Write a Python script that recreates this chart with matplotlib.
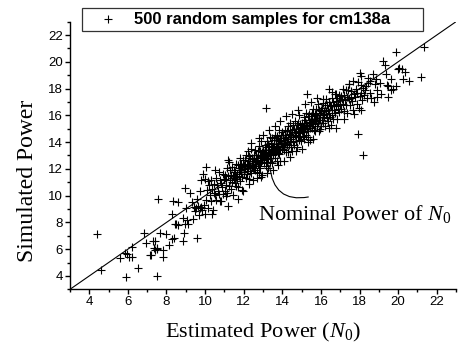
import matplotlib
matplotlib.use('Agg')
import matplotlib.pyplot as plt
from matplotlib.ticker import MultipleLocator

# ---------------- data ----------------
legend_label = "500 random samples for cm138a"
x_label = r"Estimated Power ($N_{\mathit{0}}$)"
y_label = "Simulated Power"
note_label = r"Nominal Power of $N_{\mathit{0}}$"
major_ticks = [4, 6, 8, 10, 12, 14, 16, 18, 20, 22]

# sparse low-power samples
est_low = [4.41, 4.60, 5.59, 5.85, 5.88, 5.97, 6.07, 6.19, 6.21, 6.50, 6.86, 6.93,
           7.14, 7.19, 7.31, 7.35, 7.40, 7.43, 7.49, 7.50, 7.52, 7.54, 7.66, 7.83,
           7.83, 8.00, 8.12, 8.26, 8.29, 8.34, 8.40, 8.43, 8.47, 8.60, 8.62, 8.83,
           8.86, 8.90, 8.95, 8.95, 9.00, 9.05, 9.10, 9.24, 9.30, 9.35, 9.40, 9.47,
           9.55, 9.59, 9.60, 9.65, 9.69, 9.73, 9.75, 9.81, 9.81, 9.85, 9.90, 9.92, 9.97]
sim_low = [7.10, 4.43, 5.32, 5.72, 3.93, 5.62, 5.42, 5.42, 6.17, 4.62, 7.19, 6.49,
           5.59, 5.57, 6.61, 6.11, 6.60, 5.94, 5.99, 4.02, 6.10, 9.73, 7.24, 5.92,
           5.44, 7.11, 6.29, 8.65, 6.76, 9.60, 6.86, 7.91, 7.86, 9.55, 7.84, 6.61,
           8.36, 7.23, 7.86, 10.55, 9.06, 8.20, 7.85, 10.22, 9.50, 8.24, 9.15, 8.85,
           9.10, 9.73, 6.86, 9.25, 8.53, 10.35, 9.05, 9.15, 11.20, 8.90, 11.64, 9.30, 8.65]

# dense band of samples
est_band = [
    10.02, 10.06, 10.11, 10.15, 10.19, 10.23, 10.28, 10.31, 10.36, 10.40, 10.44, 10.48,
    10.52, 10.55, 10.59, 10.62, 10.66, 10.70, 10.73, 10.77, 10.81, 10.84, 10.88, 10.91, 10.95, 10.98,
    11.02, 11.05, 11.08, 11.10, 11.13, 11.16, 11.19, 11.22, 11.24, 11.27, 11.30, 11.33, 11.36, 11.39, 11.41, 11.44, 11.47, 11.49,
    11.51, 11.53, 11.56, 11.58, 11.60, 11.62, 11.65, 11.67, 11.70, 11.72, 11.74, 11.76, 11.79, 11.81, 11.83, 11.86, 11.88, 11.90, 11.93, 11.95, 11.97, 11.99,
    12.01, 12.03, 12.05, 12.07, 12.09, 12.11, 12.13, 12.15, 12.17, 12.19, 12.21, 12.23, 12.25, 12.27, 12.29, 12.31, 12.33, 12.35, 12.37, 12.39, 12.41, 12.43, 12.45, 12.46, 12.48, 12.50,
    12.52, 12.53, 12.55, 12.57, 12.58, 12.60, 12.62, 12.63, 12.65, 12.67, 12.68, 12.70, 12.72, 12.73, 12.75, 12.77, 12.78, 12.80, 12.82, 12.83, 12.85, 12.87, 12.88, 12.90, 12.92, 12.93, 12.95, 12.97, 12.98, 13.00,
    13.02, 13.03, 13.05, 13.06, 13.08, 13.10, 13.11, 13.13, 13.14, 13.16, 13.17, 13.19, 13.21, 13.22, 13.24, 13.25, 13.27, 13.28, 13.30, 13.32, 13.33, 13.35, 13.36, 13.38, 13.39, 13.41, 13.42, 13.44, 13.45, 13.47, 13.48, 13.50,
    13.52, 13.53, 13.55, 13.57, 13.58, 13.60, 13.62, 13.63, 13.65, 13.67, 13.68, 13.70, 13.72, 13.73, 13.75, 13.77, 13.78, 13.80, 13.82, 13.83, 13.85, 13.87, 13.88, 13.90, 13.92, 13.93, 13.95, 13.97, 13.98, 14.00,
    14.02, 14.04, 14.05, 14.07, 14.09, 14.11, 14.13, 14.14, 14.16, 14.18, 14.20, 14.22, 14.23, 14.25, 14.27, 14.29, 14.30, 14.32, 14.34, 14.36, 14.38, 14.39, 14.41, 14.43, 14.45, 14.46, 14.48, 14.50,
    14.52, 14.54, 14.56, 14.58, 14.60, 14.62, 14.64, 14.65, 14.67, 14.69, 14.71, 14.73, 14.75, 14.77, 14.79, 14.81, 14.83, 14.85, 14.86, 14.88, 14.90, 14.92, 14.94, 14.96, 14.98, 15.00,
    15.02, 15.04, 15.06, 15.08, 15.10, 15.12, 15.14, 15.15, 15.17, 15.19, 15.21, 15.23, 15.25, 15.27, 15.29, 15.31, 15.33, 15.35, 15.36, 15.38, 15.40, 15.42, 15.44, 15.46, 15.48, 15.50,
    15.52, 15.54, 15.56, 15.58, 15.60, 15.63, 15.65, 15.67, 15.69, 15.71, 15.73, 15.75, 15.77, 15.79, 15.81, 15.83, 15.85, 15.88, 15.90, 15.92, 15.94, 15.96, 15.98, 16.00,
    16.02, 16.04, 16.07, 16.09, 16.11, 16.13, 16.16, 16.18, 16.20, 16.22, 16.25, 16.27, 16.29, 16.31, 16.34, 16.36, 16.38, 16.40, 16.43, 16.45, 16.47, 16.50,
    16.52, 16.55, 16.57, 16.60, 16.62, 16.65, 16.67, 16.70, 16.72, 16.75, 16.77, 16.80, 16.82, 16.85, 16.87, 16.90, 16.92, 16.95, 16.97, 17.00,
    17.03, 17.06, 17.09, 17.12, 17.16, 17.19, 17.22, 17.25, 17.28, 17.31, 17.34, 17.37, 17.41, 17.44, 17.47, 17.50,
]
sim_band = [
    11.22, 9.66, 10.41, 9.05, 10.79, 10.03, 11.18, 9.61, 10.46, 8.90, 10.84, 10.18,
    10.02, 11.35, 9.69, 10.82, 10.36, 11.80, 10.13, 11.17, 9.61, 10.94, 10.68, 11.61, 10.15, 11.28,
    11.52, 10.35, 11.18, 10.80, 12.03, 10.16, 11.49, 10.72, 12.54, 11.17, 11.90, 10.53, 11.56, 10.99, 12.11, 10.04, 11.47, 11.29,
    11.91, 10.93, 11.76, 11.38, 12.40, 10.72, 11.65, 11.27, 12.30, 10.62, 12.04, 11.46, 12.79, 11.11, 11.93, 11.76, 12.38, 11.40, 12.13, 10.35, 12.67, 11.79,
    12.31, 11.63, 12.65, 11.97, 12.19, 11.31, 13.03, 11.85, 12.37, 11.59, 12.61, 12.03, 12.95, 11.27, 12.29, 11.81, 12.83, 12.25, 13.47, 11.69, 12.61, 12.13, 12.85, 11.16, 12.58, 12.10,
    12.72, 12.03, 13.05, 12.37, 13.38, 11.90, 12.62, 12.33, 13.05, 11.77, 12.78, 12.60, 13.32, 12.33, 13.05, 11.67, 13.68, 12.20, 13.02, 12.63, 13.35, 12.07, 12.98, 12.50, 14.12, 12.63, 13.25, 11.57, 12.98, 12.90,
    13.42, 12.73, 13.15, 12.46, 13.78, 13.00, 13.41, 12.23, 13.64, 12.76, 13.17, 12.99, 14.11, 12.52, 13.44, 12.75, 13.87, 12.08, 13.60, 13.22, 13.73, 12.55, 14.36, 13.08, 13.49, 12.81, 13.92, 13.24, 13.65, 12.47, 14.28, 13.10,
    13.62, 13.03, 14.15, 13.37, 13.88, 12.80, 14.52, 13.23, 13.85, 13.57, 14.18, 12.60, 13.72, 13.43, 14.45, 13.17, 14.18, 13.60, 14.92, 13.13, 14.05, 13.47, 14.18, 12.60, 14.52, 13.83, 14.05, 13.47, 14.78, 13.70,
    14.32, 13.64, 14.55, 13.97, 14.19, 13.41, 14.93, 13.84, 14.56, 13.28, 14.40, 14.02, 14.83, 13.75, 14.27, 13.29, 15.20, 14.22, 14.64, 13.76, 14.88, 14.09, 15.41, 13.63, 14.55, 14.26, 14.88, 13.30,
    14.72, 14.04, 15.26, 14.38, 15.00, 13.82, 14.74, 14.55, 15.57, 14.09, 15.01, 14.43, 15.25, 13.67, 14.79, 14.41, 15.43, 14.65, 16.06, 14.18, 15.10, 14.42, 15.34, 14.06, 15.08, 14.90,
    15.42, 14.84, 15.16, 14.48, 15.90, 14.72, 15.44, 14.25, 15.67, 15.09, 15.41, 14.53, 16.15, 14.97, 15.29, 14.81, 15.93, 14.35, 15.66, 15.18, 16.10, 15.02, 15.54, 14.16, 15.98, 15.40,
    15.72, 15.04, 16.16, 15.38, 16.50, 14.93, 15.75, 15.37, 16.09, 14.81, 16.03, 15.65, 16.47, 15.19, 15.81, 15.43, 16.85, 15.68, 16.40, 14.82, 16.14, 15.66, 16.38, 15.20,
    16.32, 15.64, 16.57, 15.99, 16.91, 15.43, 16.36, 15.88, 16.80, 15.22, 16.35, 16.07, 17.19, 15.81, 16.74, 15.56, 16.38, 16.20, 17.03, 15.85, 16.77, 15.30,
    16.72, 16.05, 17.27, 16.40, 17.02, 15.75, 16.77, 16.40, 17.62, 16.15, 17.07, 16.70, 17.32, 15.75, 16.87, 16.50, 17.52, 16.25, 17.17, 16.80,
    17.43, 16.46, 17.19, 16.82, 17.96, 16.29, 17.52, 17.15, 17.88, 16.81, 17.34, 16.17, 17.91, 17.24, 18.37, 16.80,
]

# wider spread and high-power samples
est_high = [17.45, 17.57, 17.66, 17.66, 17.74, 17.86, 17.92, 17.97, 18.00, 18.00, 18.09, 18.09,
            18.09, 18.09, 18.14, 18.17, 18.35, 18.43, 17.55, 17.62, 17.70, 17.78, 17.82, 17.88,
            18.25, 18.30, 18.40, 18.46, 18.52, 18.56, 18.62, 18.69, 18.73, 18.78, 18.84, 18.90,
            18.93, 19.04, 19.12, 19.24, 19.30, 19.38, 19.41, 19.47, 19.50, 19.64, 19.64, 19.76,
            19.87, 19.87, 19.98, 20.03, 20.19, 20.24, 20.38, 20.55, 21.19, 21.36]
sim_high = [18.36, 17.82, 18.56, 16.38, 16.07, 16.87, 18.51, 16.52, 17.44, 19.18, 18.94, 18.30,
            17.69, 16.38, 17.12, 18.06, 18.19, 18.44, 17.30, 17.05, 17.60, 17.35, 17.95, 17.70,
            17.55, 17.90, 17.30, 18.80, 17.69, 18.60, 17.30, 19.10, 17.02, 18.35, 18.70, 17.36,
            17.90, 18.40, 17.60, 20.06, 19.76, 19.06, 18.30, 18.19, 17.37, 18.69, 17.87, 17.94,
            18.19, 20.75, 19.44, 19.56, 19.44, 18.69, 19.26, 18.56, 18.85, 21.10]

est_spread = [10.07, 10.50, 10.16, 11.19, 11.80, 10.35, 11.19, 11.71, 11.10, 10.76, 12.22, 12.39,
              12.80, 13.00, 13.30, 13.60, 13.90, 14.21, 14.50, 14.80, 15.16, 15.50, 15.80, 16.10,
              16.60, 16.80, 13.17, 15.29, 16.42, 12.90, 13.20, 13.50, 13.80, 14.10, 14.40, 14.73,
              15.00, 15.33, 15.60, 15.93, 16.42, 16.80, 17.20, 17.90, 18.20, 12.69, 12.30, 11.90]
sim_spread = [12.14, 11.90, 11.10, 12.64, 12.34, 8.61, 9.23, 9.73, 9.97, 9.60, 13.34, 13.96,
              14.30, 14.50, 14.90, 15.20, 15.60, 15.95, 16.10, 16.40, 16.82, 17.00, 17.30, 17.20,
              17.75, 17.60, 16.52, 17.62, 17.95, 11.40, 11.70, 11.90, 12.30, 12.60, 12.90, 13.34,
              13.50, 14.03, 14.20, 15.00, 15.08, 15.08, 15.70, 14.58, 13.04, 11.34, 10.90, 10.40]

nominal_point = (13.35, 12.25)
note_anchor = (15.35, 9.9)
note_text_pos = (12.73, 8.15)

est_power = est_low + est_band + est_high + est_spread
sim_power = sim_low + sim_band + sim_high + sim_spread
assert len(est_power) == len(sim_power)

# ---------------- styling ----------------
plt.rcParams['mathtext.fontset'] = 'custom'
plt.rcParams['mathtext.rm'] = 'Liberation Serif'
plt.rcParams['mathtext.it'] = 'Liberation Serif:italic'

SANS = 'Liberation Sans'
SERIF = 'Liberation Serif'

fig = plt.figure(figsize=(4.6, 3.49), dpi=100)
ax = fig.add_axes([70 / 460, (349 - 289.3) / 349, (456 - 70) / 460, (289.3 - 21.7) / 349])

ax.scatter(est_power, sim_power, marker='+', s=26, c='black', linewidths=0.8,
           label=legend_label, zorder=3)
ax.plot([3, 23], [3, 23], color='black', lw=0.8, zorder=2)

ax.set_xlim(3, 23)
ax.set_ylim(3, 23)
ax.xaxis.set_minor_locator(MultipleLocator(1))
ax.yaxis.set_minor_locator(MultipleLocator(1))
ax.set_xticks(major_ticks)
ax.set_yticks(major_ticks)
ax.tick_params(which='major', direction='out', length=3.5, width=1.0,
               labelsize=9.5, pad=1.5)
ax.tick_params(which='minor', direction='out', length=2, width=1.0)
for lab in ax.get_xticklabels() + ax.get_yticklabels():
    lab.set_fontfamily(SANS)

for side in ['top', 'right']:
    ax.spines[side].set_visible(False)
for side in ['left', 'bottom']:
    ax.spines[side].set_linewidth(1.0)

ax.set_xlabel(x_label, fontfamily=SERIF, fontsize=16)
ax.set_ylabel(y_label, fontfamily=SERIF, fontsize=17)
ax.xaxis.set_label_coords(0.5, -0.118)
ax.yaxis.set_label_coords(-0.083, 0.405)

ax.annotate('', xy=nominal_point, xytext=note_anchor,
            arrowprops=dict(arrowstyle='-', color='black', lw=0.8,
                            shrinkA=0, shrinkB=0,
                            connectionstyle='angle3,angleA=10,angleB=95'))
ax.text(note_text_pos[0], note_text_pos[1], note_label, fontfamily=SERIF,
        fontsize=16, ha='left', va='baseline')

leg = ax.legend(loc='upper left',
                bbox_to_anchor=(82 / 460, 1 - 8 / 349, 341 / 460, 0.001),
                bbox_transform=fig.transFigure, mode='expand',
                prop={'family': SANS, 'weight': 'bold', 'size': 12},
                frameon=True, fancybox=False, borderpad=0.25,
                handlelength=2.6, handletextpad=0.3, borderaxespad=0)
leg.get_frame().set_edgecolor('black')
leg.get_frame().set_linewidth(0.9)

fig.savefig('out.png', dpi=100)
